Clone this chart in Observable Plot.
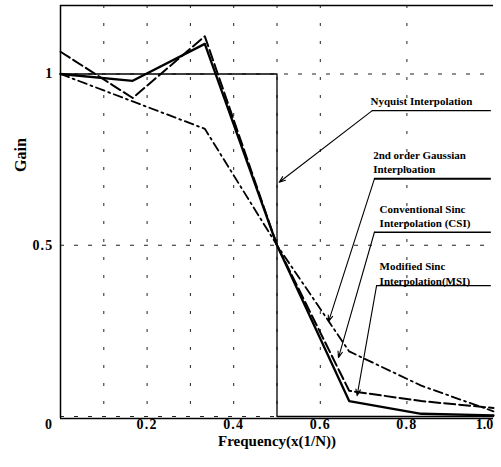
<!DOCTYPE html>
<html><head><meta charset="utf-8">
<script src="https://cdn.jsdelivr.net/npm/d3@7"></script>
<script src="https://cdn.jsdelivr.net/npm/@observablehq/plot@0.6"></script>
<style>body{margin:0;background:#fff}</style>
</head><body><div id="chart"></div>
<script>
// ---- data ----
const freq = [0, 0.1667, 0.3333, 0.5, 0.6667, 0.8333, 1.0];
const gaussian = [1.0, 0.92, 0.84, 0.5, 0.19, 0.09, 0.015];
const csi = [1.065, 0.93, 1.11, 0.5, 0.075, 0.045, 0.025];
const msi = [1.0, 0.98, 1.088, 0.5, 0.045, 0.008, 0.003];
const nyquistFreq = [0, 0.5, 0.5, 1.0];
const nyquist = [1, 1, 0, 0];

const xTicks = [0.2, 0.4, 0.6, 0.8];
const xEndTick = [1.0];
const xZeroTick = [0];
const yTicks = [0.5, 1];
const gridX = [0.1, 0.2, 0.3, 0.4, 0.5, 0.6, 0.8];
const gridY = [0, 0.5, 1];
const topY = [1.2];

// annotations (data units)
const annLabels = ["Nyquist Interpolation", "2nd order Gaussian\nInterploation", "Conventional Sinc\nInterpolation (CSI)", "Modified Sinc\nInterpolation(MSI)"];
const annTextX = [0.716, 0.722, 0.737, 0.737];
const annTextY = [0.939, 0.783, 0.625, 0.457];
const annLineX = [0.72, 0.725, 0.725, 0.73];
const annLineEnd = [0.995, 0.995, 0.995, 0.995];
const annLineY = [0.893, 0.694, 0.538, 0.382];
const annTipX = [0.505, 0.619, 0.642, 0.685];
const annTipY = [0.684, 0.277, 0.172, 0.061];
const annLineW = [1.1, 2, 1.5, 1.1];

const mk = (ys) => freq.map((f, i) => ({f, g: ys[i]}));
const nyqData = nyquistFreq.map((f, i) => ({f, g: nyquist[i]}));
const ann = annLabels.map((t, i) => ({t, tx: annTextX[i], ty: annTextY[i], lx: annLineX[i], le: annLineEnd[i], ly: annLineY[i], ax: annTipX[i], ay: annTipY[i], w: annLineW[i]}));

const serif = "'Liberation Serif', 'DejaVu Serif', 'Times New Roman', serif";
const tickOpts = {tickSize: 0, tickPadding: 1, fontSize: 14, fontWeight: "bold", fontFamily: serif, label: null};

const plot = Plot.plot({
  width: 501, height: 467,
  marginLeft: 60, marginRight: 8, marginTop: 5, marginBottom: 49,
  x: {domain: [0, 1]},
  y: {domain: [0, 1.2], insetBottom: 2},
  style: {fontFamily: serif, fontWeight: "bold", background: "white", color: "black"},
  marks: [
    // grid
    Plot.ruleX(gridX, {stroke: "#222", strokeWidth: 1, strokeDasharray: "3,15"}),
    Plot.ruleY(gridY, {stroke: "#222", strokeWidth: 1, strokeDasharray: "4,10"}),
    // frame lines
    Plot.ruleY(topY, {stroke: "black", strokeWidth: 1.3}),
    Plot.ruleX(xZeroTick, {stroke: "black", strokeWidth: 1.5}),
    Plot.ruleY(xZeroTick, {stroke: "black", strokeWidth: 1.5, dy: 2}),
    // curves
    Plot.line(nyqData, {x: "f", y: "g", stroke: "black", strokeWidth: 1.3}),
    Plot.line(mk(gaussian), {x: "f", y: "g", stroke: "black", strokeWidth: 1.8, strokeDasharray: "9,4,2,4"}),
    Plot.line(mk(csi), {x: "f", y: "g", stroke: "black", strokeWidth: 2, strokeDasharray: "11,4"}),
    Plot.line(mk(msi), {x: "f", y: "g", stroke: "black", strokeWidth: 2.3}),
    // annotations
    Plot.ruleY(ann, {y: "ly", x1: "lx", x2: "le", stroke: "black", strokeWidth: "w"}),
    Plot.arrow(ann, {x1: "lx", y1: "ly", x2: "ax", y2: "ay", stroke: "black", strokeWidth: 1.1, headLength: 9, headAngle: 40}),
    Plot.text(ann, {x: "tx", y: "ty", text: "t", textAnchor: "start", lineAnchor: "top", lineHeight: 1.32, fontSize: 11, fontWeight: "bold", fontFamily: serif, fill: "black", ariaLabel: "annotation"}),
    // axes
    Plot.axisX(xTicks, {...tickOpts, tickFormat: d3.format(".1f")}),
    Plot.axisX(xEndTick, {...tickOpts, dx: -9, tickFormat: d3.format(".1f"), ariaLabel: "x-axis end"}),
    Plot.axisX(xZeroTick, {...tickOpts, dx: -12, tickFormat: d => String(d), ariaLabel: "x-axis zero"}),
    Plot.axisY(yTicks, {...tickOpts, tickPadding: 7, tickFormat: d => String(d)}),
    Plot.text(["Gain"], {frameAnchor: "left", dx: -40, dy: -40, rotate: -90, fontSize: 16, fontWeight: "bold", fontFamily: serif, fill: "black"}),
    Plot.text(["Frequency(x(1/N))"], {frameAnchor: "bottom", dy: 27, fontSize: 15, fontWeight: "bold", fontFamily: serif, fill: "black", ariaLabel: "xlabel"})
  ]
});

document.getElementById("chart").appendChild(plot);

const svg = d3.select(plot);
svg.selectAll('g[aria-label="x-axis tick label"] text, g[aria-label="y-axis tick label"] text, g[aria-label="x-axis zero"] text, g[aria-label="x-axis end"] text').style("letter-spacing", "1.2px");
svg.selectAll('g[aria-label="annotation"] text').style("letter-spacing", "0.5px");
const xl = svg.select('g[aria-label="xlabel"] text');
xl.text(null).style("letter-spacing", "1.2px");
xl.append("tspan").text("Frequency(x(1/");
xl.append("tspan").attr("font-style", "italic").text("N");
xl.append("tspan").text("))");
</script>
</body></html>
